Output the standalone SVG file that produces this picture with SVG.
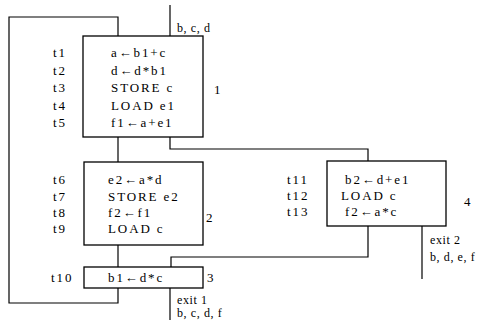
<svg xmlns="http://www.w3.org/2000/svg" width="483" height="325" viewBox="0 0 483 325">
<style>
.b{fill:none;stroke:#000;stroke-width:1.3}
.c{fill:none;stroke:#000;stroke-width:1.2}
text{font-family:'Liberation Serif','DejaVu Serif',serif;font-size:13px;fill:#000;letter-spacing:1.9px}
.s{font-size:12px;letter-spacing:0.6px}
</style>
<rect width="483" height="325" fill="#fff"/>
<g id="connectors">
<path class="c" d="M170,5V36"/>
<path class="c" d="M118,36V17H9V303H118V288"/>
<path class="c" d="M118,137V162"/>
<path class="c" d="M170,137V149H368V161"/>
<path class="c" d="M118,245V267"/>
<path class="c" d="M368,226V257H171V267"/>
<path class="c" d="M170,288V320"/>
<path class="c" d="M422,226V279"/>
</g>
<g id="block1">
<rect class="b" x="83" y="36" width="120" height="101"/>
<text x="53" y="57">t1</text><text x="53" y="75">t2</text><text x="53" y="92">t3</text><text x="53" y="110">t4</text><text x="53" y="127">t5</text>
<text x="111" y="57">a←b1+c</text>
<text x="111" y="75">d←d*b1</text>
<text x="111" y="92">STORE c</text>
<text x="111" y="110">LOAD e1</text>
<text x="111" y="127">f1←a+e1</text>
<text x="214" y="94">1</text>
<text class="s" x="177" y="32">b, c, d</text>
</g>
<g id="block2">
<rect class="b" x="84" y="162" width="119" height="83"/>
<text x="53" y="184">t6</text><text x="53" y="201">t7</text><text x="53" y="217">t8</text><text x="53" y="233">t9</text>
<text x="108" y="184">e2←a*d</text>
<text x="108" y="201">STORE e2</text>
<text x="108" y="217">f2←f1</text>
<text x="108" y="233">LOAD c</text>
<text x="206" y="222">2</text>
</g>
<g id="block3">
<rect class="b" x="84" y="267" width="119" height="21"/>
<text x="51" y="282">t10</text>
<text x="108" y="282">b1←d*c</text>
<text x="207" y="282">3</text>
<text class="s" x="177" y="304">exit 1</text>
<text class="s" x="177" y="317">b, c, d, f</text>
</g>
<g id="block4">
<rect class="b" x="327" y="161" width="119" height="65"/>
<text x="287" y="184">t11</text><text x="287" y="200">t12</text><text x="287" y="216">t13</text>
<text x="345" y="184">b2←d+e1</text>
<text x="341" y="200">LOAD c</text>
<text x="345" y="216">f2←a*c</text>
<text x="464" y="206">4</text>
<text class="s" x="430" y="244">exit 2</text>
<text class="s" x="430" y="261">b, d, e, f</text>
</g>
</svg>
